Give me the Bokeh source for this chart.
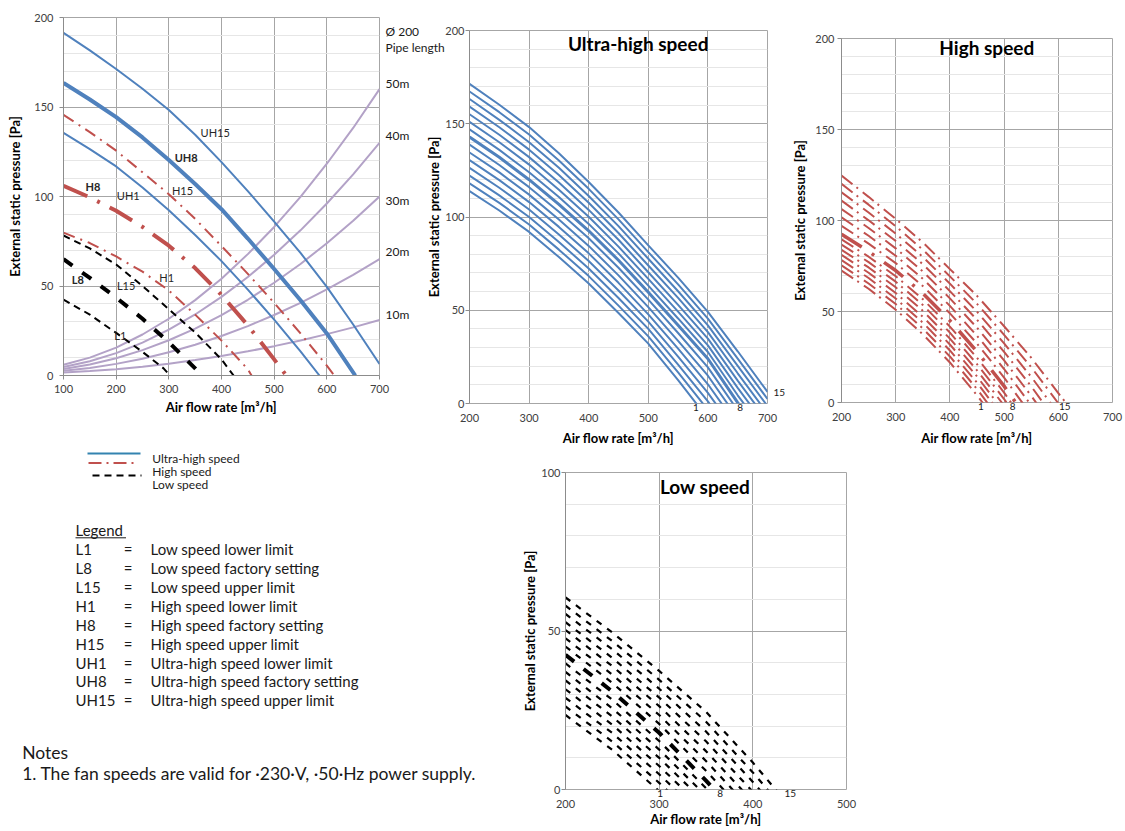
from bokeh.plotting import figure
from bokeh.models import Range1d, Label, FixedTicker, LinearAxis
from bokeh.layouts import row, column
from bokeh.embed import file_html
from bokeh.resources import INLINE

FONT = "Lato"
BLUE = "#4f81bd"
RED = "#c0504d"
PURPLE = "#b3a2c7"
BLACK = "#000000"
GRID = "#a6a6a6"
MINOR = "#e6e6e6"

# ---------------- main chart data ----------------
pipe_x = [100, 150, 200, 250, 300, 350, 400, 450, 500, 550, 600, 650, 700]
pipe_50m = [6.0, 10.0, 15.6, 22.9, 31.7, 42.1, 54.1, 67.8, 83.0, 99.8, 118.3, 138.3, 160.0]
pipe_40m = [4.7, 8.0, 12.5, 18.4, 25.6, 34.1, 43.9, 55.0, 67.4, 81.1, 96.1, 112.4, 130.0]
pipe_30m = [3.6, 6.1, 9.6, 14.2, 19.7, 26.2, 33.7, 42.3, 51.8, 62.3, 73.9, 86.4, 100.0]
pipe_20m = [2.6, 4.2, 6.5, 9.4, 13.0, 17.2, 22.1, 27.6, 33.8, 40.6, 48.1, 56.2, 65.0]
pipe_10m = [1.7, 2.5, 3.5, 4.9, 6.6, 8.6, 10.9, 13.5, 16.4, 19.6, 23.1, 26.9, 31.0]

uh15_x = [100, 150, 200, 250, 300, 350, 400, 450, 500, 550, 600, 650, 700]
uh15_y = [191.4, 181.6, 171.2, 160.2, 148.3, 134.5, 119.2, 103.0, 86.0, 68.5, 49.5, 28.5, 6.4]
uh8_x = [100, 150, 200, 250, 300, 350, 400, 450, 500, 550, 600, 654]
uh8_y = [163.4, 154.2, 144.3, 133.0, 120.4, 107.0, 92.9, 76.5, 59.5, 42.0, 23.5, 0]
uh1_x = [100, 150, 200, 250, 300, 350, 400, 450, 500, 550, 586]
uh1_y = [135.5, 126.5, 116.8, 105.0, 92.3, 78.5, 63.9, 48.0, 31.2, 13.5, 0]
h15_x = [100, 150, 200, 250, 300, 350, 400, 450, 500, 550, 600, 614]
h15_y = [145.6, 136.0, 125.6, 113.5, 101.3, 87.5, 72.3, 56.8, 40.6, 23.5, 5.5, 0]
h8_x = [100, 150, 200, 250, 300, 350, 400, 450, 500, 523]
h8_y = [106.0, 99.5, 92.0, 83.0, 72.5, 60.0, 45.0, 28.0, 9.0, 0]
h1_x = [100, 150, 200, 250, 300, 350, 400, 450, 457]
h1_y = [79.8, 74.0, 66.5, 58.0, 47.5, 34.0, 19.5, 3.5, 0]
l15_x = [100, 150, 200, 250, 300, 350, 400, 423]
l15_y = [78.2, 71.0, 62.0, 50.0, 37.0, 24.0, 9.0, 0]
l8_x = [100, 150, 200, 250, 300, 350, 363]
l8_y = [65.0, 54.5, 43.5, 31.7, 18.6, 4.0, 0]
l1_x = [100, 150, 200, 250, 290, 302]
l1_y = [42.4, 34.0, 23.8, 13.2, 4.0, 0]

main_label_text = ["UH15", "UH8", "UH1", "H15", "H8", "H1", "L15", "L8", "L1"]
main_label_x = [388, 333, 223, 326, 156, 296, 219, 127, 208]
main_label_y = [136, 122, 100.8, 103.6, 105.6, 54.7, 50.1, 53.4, 22.6]
main_label_bold = [False, True, False, False, True, False, False, True, False]

pipe_label_text = ["Ø 200", "Pipe length", "50m", "40m", "30m", "20m", "10m"]
pipe_label_y = [192, 183, 163, 134, 98, 69, 34]

# ---------------- ultra-high speed chart data ----------------
uh_x = [200, 250, 300, 350, 400, 450, 500, 550, 600, 650, 700]
uh_curves = [
    [113.9, 103.5, 92.0, 78.5, 64.3, 48.5, 32.1, 12.5, -8.0, -29.0, -50.0],
    [118.0, 107.6, 96.0, 82.5, 68.3, 52.5, 36.0, 16.7, -3.4, -24.8, -45.9],
    [122.2, 111.6, 100.0, 86.6, 72.4, 56.6, 40.0, 20.9, 1.1, -20.6, -41.7],
    [126.3, 115.7, 104.0, 90.6, 76.4, 60.6, 43.9, 25.1, 5.7, -16.4, -37.6],
    [130.5, 119.8, 108.0, 94.7, 80.5, 64.7, 47.8, 29.4, 10.3, -12.1, -33.4],
    [134.6, 123.9, 112.0, 98.7, 84.5, 68.7, 51.7, 33.6, 14.9, -7.9, -29.3],
    [138.8, 127.9, 116.0, 102.8, 88.6, 72.8, 55.7, 37.8, 19.4, -3.7, -25.1],
    [142.9, 132.0, 120.0, 106.8, 92.6, 76.8, 59.6, 42.0, 24.0, 0.5, -21.0],
    [147.0, 136.0, 124.0, 110.7, 96.3, 80.5, 63.2, 45.6, 27.6, 4.4, -17.1],
    [151.0, 140.1, 128.1, 114.6, 100.1, 84.1, 66.8, 49.3, 31.2, 8.4, -13.2],
    [155.1, 144.1, 132.1, 118.5, 103.8, 87.8, 70.4, 52.9, 34.8, 12.3, -9.3],
    [159.2, 148.1, 136.1, 122.5, 107.6, 91.4, 74.0, 56.6, 38.3, 16.2, -5.4],
    [163.3, 152.1, 140.1, 126.4, 111.3, 95.1, 77.6, 60.2, 41.9, 20.2, -1.4],
    [167.3, 156.2, 144.2, 130.3, 115.1, 98.7, 81.2, 63.9, 45.5, 24.1, 2.4],
    [171.4, 160.2, 148.2, 134.2, 118.8, 102.4, 84.8, 67.5, 49.1, 28.0, 6.25],
]
uh_end_text = ["1", "8"]
uh_end_x = [580, 654]
uh_right_text = ["15"]
uh_right_y = [6]

# ---------------- high speed chart data ----------------
hs_x = [200, 250, 300, 350, 400, 450, 500, 550, 600, 650]
hs_curves = [
    [72.5, 62.5, 51.0, 37.5, 22.0, 4.0, -16.0, -38.0, -60.0, -82.0],
    [75.4, 65.4, 54.1, 40.7, 25.3, 7.4, -12.4, -34.3, -56.3, -78.3],
    [78.2, 68.4, 57.1, 43.9, 28.6, 10.9, -8.9, -30.6, -52.6, -74.6],
    [81.1, 71.3, 60.2, 47.1, 31.9, 14.3, -5.3, -26.9, -48.9, -70.9],
    [83.9, 74.2, 63.3, 50.4, 35.1, 17.7, -1.7, -23.1, -45.1, -67.1],
    [86.8, 77.1, 66.4, 53.6, 38.4, 21.1, 1.9, -19.4, -41.4, -63.4],
    [89.6, 80.1, 69.4, 56.8, 41.7, 24.6, 5.4, -15.7, -37.7, -59.7],
    [92.5, 83.0, 72.5, 60.0, 45.0, 28.0, 9.0, -12.0, -34.0, -56.0],
    [97.1, 87.3, 76.6, 64.0, 49.0, 32.4, 13.7, -6.8, -28.4, -50.0],
    [101.7, 91.6, 80.6, 68.0, 53.1, 36.7, 18.4, -1.5, -22.8, -44.0],
    [106.3, 95.9, 84.7, 72.0, 57.2, 41.1, 23.1, 3.7, -17.2, -38.0],
    [110.9, 100.1, 88.7, 76.0, 61.2, 45.5, 27.8, 8.9, -11.6, -32.0],
    [115.5, 104.4, 92.8, 80.0, 65.3, 49.9, 32.5, 14.1, -6.0, -26.0],
    [120.1, 108.7, 96.8, 84.0, 69.3, 54.2, 37.2, 19.4, -0.4, -20.0],
    [124.7, 113.0, 100.9, 88.0, 73.3, 58.6, 41.9, 24.6, 5.2, -14.0],
]
hs_end_text = ["1", "8", "15"]
hs_end_x = [457, 516, 612]

# ---------------- low speed chart data ----------------
ls_x = [200, 250, 300, 350, 400, 450]
ls_curves = [
    [23.5, 12.5, -0.5, -14.0, -28.0, -42.0],
    [26.2, 15.1, 2.1, -11.6, -25.9, -40.1],
    [28.9, 17.8, 4.8, -9.2, -23.7, -38.3],
    [31.6, 20.4, 7.4, -6.8, -21.6, -36.4],
    [34.4, 23.0, 10.0, -4.4, -19.4, -34.6],
    [37.1, 25.6, 12.6, -2.0, -17.3, -32.7],
    [39.8, 28.3, 15.3, 0.4, -15.1, -30.9],
    [42.5, 30.9, 17.9, 2.8, -13.0, -29.0],
    [45.1, 33.6, 20.7, 5.9, -9.9, -26.1],
    [47.7, 36.2, 23.5, 9.0, -6.9, -23.3],
    [50.3, 38.9, 26.3, 12.1, -3.8, -20.4],
    [52.8, 41.5, 29.0, 15.2, -0.7, -17.6],
    [55.4, 44.2, 31.8, 18.3, 2.4, -14.7],
    [58.0, 46.8, 34.6, 21.4, 5.4, -11.9],
    [60.6, 49.5, 37.4, 24.5, 8.5, -9.0],
]
ls_end_text = ["1", "8", "15"]
ls_end_x = [301, 365, 440]

# ---------------- legend texts ----------------
style_text = ["Ultra-high speed", "High speed", "Low speed"]
legend_codes = ["L1", "L8", "L15", "H1", "H8", "H15", "UH1", "UH8", "UH15"]
legend_desc = ["Low speed lower limit", "Low speed factory setting", "Low speed upper limit",
               "High speed lower limit", "High speed factory setting", "High speed upper limit",
               "Ultra-high speed lower limit", "Ultra-high speed factory setting",
               "Ultra-high speed upper limit"]
notes_title = "Notes"
notes_text = "1. The fan speeds are valid for ·230·V, ·50·Hz power supply."

X_LABEL = "Air flow rate [m³/h]"
Y_LABEL = "External static pressure [Pa]"


def make_fig(width, height, xr, yr, left, right, top, bottom):
    p = figure(width=width, height=height, x_range=Range1d(*xr), y_range=Range1d(*yr),
               output_backend="svg", toolbar_location=None, title=None,
               min_border_left=left, min_border_right=right,
               min_border_top=top, min_border_bottom=bottom)
    p.outline_line_color = GRID
    return p


def style_axes(p, xticks, yticks, yminor, lab_std_x, ax_std_x, lab_std_y, ax_std_y,
               x_line=True):
    p.xaxis.ticker = FixedTicker(ticks=xticks)
    p.yaxis.ticker = FixedTicker(ticks=yticks, minor_ticks=yminor)
    p.xaxis.axis_label = X_LABEL
    p.yaxis.axis_label = Y_LABEL
    for ax in (p.xaxis[0], p.yaxis[0]):
        ax.major_tick_out = 4
        ax.major_tick_in = 0
        ax.minor_tick_out = 0
        ax.minor_tick_in = 0
        ax.axis_line_color = "#8c8c8c"
        ax.major_tick_line_color = "#8c8c8c"
        ax.major_label_text_font = FONT
        ax.major_label_text_font_size = "11px"
        ax.major_label_text_color = "#404040"
        ax.axis_label_text_font = FONT
        ax.axis_label_text_font_size = "13px"
        ax.axis_label_text_font_style = "bold"
        ax.axis_label_text_color = "#000000"
    if not x_line:
        p.xaxis.axis_line_color = None
        p.xaxis.major_tick_line_color = None
        p.xaxis.major_tick_out = 0
    p.xaxis.major_label_standoff = lab_std_x
    p.xaxis.axis_label_standoff = ax_std_x
    p.yaxis.major_label_standoff = lab_std_y
    p.yaxis.axis_label_standoff = ax_std_y
    p.xgrid.grid_line_color = GRID
    p.ygrid.grid_line_color = GRID
    p.ygrid.minor_grid_line_color = MINOR


def text_axis(ticks, texts, size, standoff):
    ax = LinearAxis(ticker=FixedTicker(ticks=ticks))
    ov = {}
    for t, s in zip(ticks, texts):
        ov[t] = s
        ov[str(t)] = s
    ax.major_label_overrides = ov
    ax.axis_line_color = None
    ax.major_tick_line_color = None
    ax.minor_tick_line_color = None
    ax.major_tick_out = 0
    ax.major_tick_in = 0
    ax.major_label_standoff = standoff
    ax.major_label_text_font = FONT
    ax.major_label_text_font_size = size
    ax.major_label_text_color = "#1a1a1a"
    return ax


def add_end_axis(p, ticks, texts):
    ax = text_axis(ticks, texts, "10px", 0)
    p.below.insert(0, ax)


def add_label(p, x, y, text, size="11px", bold=False, align="center", color="#262626",
              baseline="middle"):
    p.add_layout(Label(x=x, y=y, text=text, text_font=FONT, text_font_size=size,
                       text_font_style="bold" if bold else "normal", text_align=align,
                       text_baseline=baseline, text_color=color))


TOP_H = 450
BOT_H = 381

# ---------------- main chart ----------------
main = make_fig(460, TOP_H, (100, 700), (0, 200), 63, 81, 17, TOP_H - 375)
style_axes(main, list(range(100, 701, 100)), list(range(0, 201, 50)), list(range(0, 201, 10)),
           5, 3, 6, 8)
for ys in (pipe_50m, pipe_40m, pipe_30m, pipe_20m, pipe_10m):
    main.line(pipe_x, ys, line_color=PURPLE, line_width=2)
main.line(uh15_x, uh15_y, line_color=BLUE, line_width=2)
main.line(uh1_x, uh1_y, line_color=BLUE, line_width=2)
main.line(uh8_x, uh8_y, line_color=BLUE, line_width=4)
main.line(h15_x, h15_y, line_color=RED, line_width=2, line_dash="12 6 2 6")
main.line(h1_x, h1_y, line_color=RED, line_width=2, line_dash="12 6 2 6")
main.line(h8_x, h8_y, line_color=RED, line_width=4, line_dash="26 11 3 11")
main.line(l15_x, l15_y, line_color=BLACK, line_width=2, line_dash="7 5")
main.line(l1_x, l1_y, line_color=BLACK, line_width=2, line_dash="7 5")
main.line(l8_x, l8_y, line_color=BLACK, line_width=4, line_dash="11 12")
for t, x, y, b in zip(main_label_text, main_label_x, main_label_y, main_label_bold):
    add_label(main, x, y, t, size="11px", bold=b)
main.add_layout(text_axis(pipe_label_y, pipe_label_text, "12px", 6), "right")

# ---------------- ultra-high speed chart ----------------
uh = make_fig(367, TOP_H, (200, 700), (0, 200), 47, 22, 30, TOP_H - 403)
uh.border_fill_alpha = 0
style_axes(uh, list(range(200, 701, 100)), list(range(0, 201, 50)), list(range(0, 201, 10)),
           0, 5, 1, 0, x_line=False)
for i, ys in enumerate(uh_curves):
    uh.line(uh_x, ys, line_color=BLUE, line_width=3 if i == 7 else 2)
add_end_axis(uh, uh_end_x, uh_end_text)
uh.add_layout(text_axis(uh_right_y, uh_right_text, "10px", 6), "right")
add_label(uh, 483, 193, "Ultra-high speed", size="19px", bold=True, color="#000000")

# ---------------- high speed chart ----------------
hs = make_fig(336, TOP_H, (200, 700), (0, 200), 52, 13, 38, TOP_H - 402)
hs.border_fill_alpha = 0
style_axes(hs, list(range(200, 701, 100)), list(range(0, 201, 50)), list(range(0, 201, 10)),
           0, 6, 3, 4, x_line=False)
for i, ys in enumerate(hs_curves):
    if i == 7:
        hs.line(hs_x, ys, line_color=RED, line_width=3.5, line_dash="24 12 3 12")
    else:
        hs.line(hs_x, ys, line_color=RED, line_width=2, line_dash="14 5 2 6")
add_end_axis(hs, hs_end_x, hs_end_text)
add_label(hs, 468, 195, "High speed", size="19px", bold=True, color="#000000")

# ---------------- legend / notes panel ----------------
leg = figure(width=518, height=BOT_H, x_range=Range1d(0, 518), y_range=Range1d(BOT_H, 0),
             output_backend="svg", toolbar_location=None, min_border=0, title=None,
             x_axis_location=None, y_axis_location=None)
leg.grid.visible = False
leg.outline_line_color = None
leg.line([87, 140], [3, 3], line_color="#3383b0", line_width=2)
leg.line([88, 135], [12.5, 12.5], line_color=RED, line_width=2, line_dash="13 5 2 5")
leg.line([92, 141], [25, 25], line_color=BLACK, line_width=2, line_dash="7 5")
for t, y in zip(style_text, [7.5, 20.5, 34]):
    add_label(leg, 151.7, y, t, size="12px", align="left", color="#1a1a1a")
add_label(leg, 75, 79.3, "Legend", size="15px", align="left", color="#1a1a1a")
leg.line([75, 125.5], [87.3, 87.3], line_color="#1a1a1a", line_width=1)
row_y = [98.3, 117.3, 136, 155, 174, 193, 212, 230.7, 249.7]
for c, d, y in zip(legend_codes, legend_desc, row_y):
    add_label(leg, 75, y, c, size="15px", align="left", color="#1a1a1a")
    add_label(leg, 127.7, y, "=", size="15px", align="center", color="#1a1a1a")
    add_label(leg, 150, y, d, size="15px", align="left", color="#1a1a1a")
add_label(leg, 21.7, 301.7, notes_title, size="17.5px", align="left", color="#1a1a1a")
add_label(leg, 21.7, 323.3, notes_text, size="17.5px", align="left", color="#1a1a1a")

# ---------------- low speed chart ----------------
ls = make_fig(342, BOT_H, (200, 500), (0, 100), 47, 14, 22, BOT_H - 339)
ls.border_fill_alpha = 0
style_axes(ls, list(range(200, 501, 100)), [0, 50, 100], list(range(0, 101, 10)),
           0, 0, 1, 0, x_line=False)
for i, ys in enumerate(ls_curves):
    if i == 7:
        ls.line(ls_x, ys, line_color=BLACK, line_width=4, line_dash="11 12")
    else:
        ls.line(ls_x, ys, line_color=BLACK, line_width=2.2, line_dash="6 7")
add_end_axis(ls, ls_end_x, ls_end_text)
add_label(ls, 349, 95.5, "Low speed", size="19px", bold=True, color="#000000")

top_row = row(column(main), column(uh, margin=(0, 0, 0, -38)), column(hs))
bottom_row = row(column(leg), column(ls))
layout = column(top_row, bottom_row)
open("out.html", "w").write(file_html(layout, INLINE))
